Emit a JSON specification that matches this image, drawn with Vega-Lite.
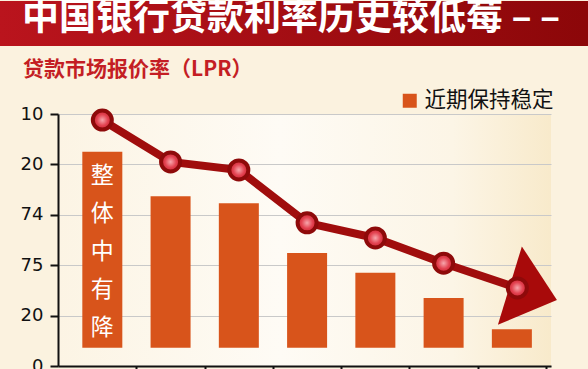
{
  "$schema": "https://vega.github.io/schema/vega-lite/v6.json",
  "background": "#FBF2DF",
  "padding": 0,
  "columns": 1,
  "bounds": "flush",
  "center": true,
  "spacing": 68,
  "config": {"view": {"stroke": null}},
  "concat": [
    {
      "width": 609,
      "height": 45,
      "data": {"values": [{"t": "中国银行贷款利率历史较低莓 – –"}]},
      "layer": [
        {
          "mark": {"type": "rect", "fill": {"gradient": "linear", "x1": 0, "y1": 0, "x2": 1, "y2": 0, "stops": [{"offset": 0, "color": "#BA141D"}, {"offset": 0.96, "color": "#8C0709"}, {"offset": 1, "color": "#8C0709"}]}},
          "encoding": {}
        },
        {
          "mark": {"type": "text", "align": "left", "baseline": "middle", "fontSize": 37, "fontWeight": "bold", "color": "white", "font": "Noto Sans CJK SC"},
          "encoding": {"text": {"field": "t"}, "x": {"value": 22}, "y": {"value": 18}}
        }
      ]
    },
    {
      "width": 493,
      "height": 252,
      "title": {"text": "贷款市场报价率（LPR）", "anchor": "start", "frame": "group", "dx": -35, "offset": 23, "fontSize": 21, "font": "Noto Sans CJK SC", "fontWeight": "bold", "color": "#C41E24"},
      "view": {"stroke": null, "fill": {"gradient": "linear", "x1": 0, "y1": 0, "x2": 1, "y2": 0, "stops": [{"offset": 0, "color": "#FCF4E4"}, {"offset": 0.45, "color": "#FEFBF5"}, {"offset": 0.8, "color": "#FCF5E6"}, {"offset": 1, "color": "#F8EACB"}]}},
      "data": {"values": [
        {"i": 0, "lx": 0, "bar": 4.25, "line": 4.88, "note": "整\n体\n中\n有\n降"},
        {"i": 1, "lx": 1, "bar": 3.37, "line": 4.05},
        {"i": 2, "lx": 2, "bar": 3.23, "line": 3.89},
        {"i": 3, "lx": 3, "bar": 2.24, "line": 2.84},
        {"i": 4, "lx": 4, "bar": 1.85, "line": 2.54},
        {"i": 5, "lx": 5, "bar": 1.35, "line": 2.04},
        {"i": 6, "lx": 6.08, "bar": 0.73, "line": 1.55}
      ]},
      "encoding": {
        "x": {"field": "i", "type": "quantitative", "scale": {"domain": [-0.576, 6.5], "nice": false, "zero": false},
          "axis": {"values": [0.5, 1.5, 2.5, 3.5, 4.5, 5.5, 6.5], "labels": false, "title": null, "grid": false, "domainColor": "#111", "domainWidth": 2, "tickColor": "#111", "tickWidth": 2, "tickSize": 8}}
      },
      "layer": [
        {
          "mark": {"type": "bar", "width": 40},
          "encoding": {
            "y": {"field": "bar", "type": "quantitative", "scale": {"domain": [0, 5], "nice": false, "zero": false},
              "axis": {"values": [0, 1, 2, 3, 4, 5], "labelExpr": "['0','20','75','74','20','10'][datum.value]", "title": null, "labelFlush": false, "domainColor": "#111", "domainWidth": 2, "tickColor": "#111", "tickWidth": 2, "tickSize": 8, "labelPadding": 7, "labelFont": "DejaVu Sans", "labelFontSize": 18, "labelColor": "#111", "gridColor": "#C9C9C9", "gridWidth": 1, "minExtent": 58, "maxExtent": 58}},
            "y2": {"datum": 0.36},
            "color": {"datum": "近期保持稳定", "scale": {"range": ["#D8541B"]},
              "legend": {"orient": "none", "legendX": 399, "legendY": 89, "title": null, "symbolType": "square", "symbolSize": 196, "symbolStrokeWidth": 0, "symbolOpacity": 1, "labelFontSize": 21.5, "labelFont": "Noto Sans CJK SC", "labelColor": "#111", "labelOffset": 4, "padding": 0}}
          }
        },
        {
          "transform": [{"filter": "isValid(datum.note)"}],
          "mark": {"type": "text", "color": "white", "fontSize": 23, "font": "Noto Sans CJK SC", "baseline": "top", "align": "center", "dy": 13, "lineHeight": 38, "lineBreak": "\n"},
          "encoding": {"y": {"field": "bar", "type": "quantitative", "axis": {"title": null}}, "text": {"field": "note"}}
        },
        {
          "transform": [{"filter": "datum.i == 6"}],
          "mark": {"type": "point", "shape": "M-0.19,-1L1.01,0L-0.19,1Z", "size": 6724, "angle": 17, "filled": true, "fill": "#A80A0A", "strokeWidth": 0, "opacity": 1},
          "encoding": {"x": {"field": "lx", "type": "quantitative"}, "y": {"field": "line", "type": "quantitative", "axis": {"title": null}}}
        },
        {
          "mark": {"type": "line", "color": "#A00D0D", "strokeWidth": 8, "strokeJoin": "round", "strokeCap": "round"},
          "encoding": {"x": {"field": "lx", "type": "quantitative"}, "y": {"field": "line", "type": "quantitative", "axis": {"title": null}}}
        },
        {
          "mark": {"type": "circle", "size": 361, "opacity": 1, "stroke": "#8E0A0A", "strokeWidth": 4,
            "fill": {"gradient": "radial", "x1": 0.5, "y1": 0.5, "x2": 0.5, "y2": 0.5, "r1": 0, "r2": 0.5, "stops": [{"offset": 0, "color": "#F7A8AE"}, {"offset": 0.6, "color": "#E2404E"}, {"offset": 1, "color": "#CC2A3A"}]}},
          "encoding": {"x": {"field": "lx", "type": "quantitative"}, "y": {"field": "line", "type": "quantitative", "axis": {"title": null}}}
        }
      ]
    }
  ]
}
